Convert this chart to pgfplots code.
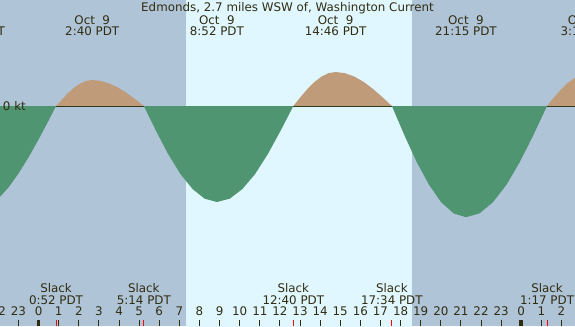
\documentclass[border=0pt]{standalone}
\usepackage{fontspec}
\setmainfont{DejaVu Sans}
\usepackage{pgfplots}
\pgfplotsset{compat=1.18}
\usepackage{pgfplotstable}

\definecolor{nightcol}{RGB}{176,196,216}
\definecolor{daycol}{RGB}{224,247,255}
\definecolor{floodcol}{RGB}{191,155,122}
\definecolor{ebbcol}{RGB}{80,149,113}
\definecolor{fgcol}{RGB}{48,44,16}
\newcommand\lbl{\fontsize{8.9}{10}\selectfont}

% tidal current, hours from midnight Oct 9 (PDT), knots (+ flood, - ebb)
\pgfplotstableread{
t v
-2.00 -1.157
-1.50 -1.019
-1.00 -0.845
-0.50 -0.642
0.00 -0.418
0.50 -0.181
0.867 0
1.17 0.084
1.47 0.163
1.77 0.230
2.07 0.281
2.37 0.314
2.667 0.325
3.09 0.314
3.52 0.281
3.95 0.230
4.38 0.163
4.81 0.084
5.233 0
5.84 -0.311
6.44 -0.600
7.05 -0.849
7.66 -1.039
8.26 -1.159
8.867 -1.200
9.50 -1.159
10.13 -1.039
10.77 -0.849
11.40 -0.600
12.03 -0.311
12.667 0
13.02 0.110
13.37 0.2125
13.72 0.3005
14.07 0.368
14.42 0.4105
14.767 0.425
15.23 0.4105
15.70 0.368
16.17 0.3005
16.63 0.2125
17.10 0.110
17.567 0
18.18 -0.360
18.79 -0.695
19.41 -0.983
20.02 -1.204
20.64 -1.343
21.25 -1.390
21.92 -1.343
22.59 -1.204
23.27 -0.983
23.94 -0.695
24.61 -0.360
25.283 0
25.62 0.104
25.95 0.200
26.29 0.283
26.63 0.346
26.96 0.386
27.30 0.400
}\current

\begin{document}
\begin{tikzpicture}
\begin{axis}[
  scale only axis, width=431.25pt, height=244.5pt,
  xmin=-1.919, xmax=26.673, ymin=-2.75, ymax=1.325,
  axis background/.style={fill=nightcol},
  axis line style={draw=none},
  axis on top,
  ytick=\empty,
  xtick={-1,0,...,26},
  xticklabels={23,0,1,2,3,4,5,6,7,8,9,10,11,12,13,14,15,16,17,18,19,20,21,22,23,0,1,2},
  xtick pos=bottom, tick align=inside, major tick length=4.5pt,
  tick style={fgcol, line width=0.75pt},
  xticklabel style={anchor=base, yshift=7.7pt, font=\lbl, text=fgcol, inner sep=0pt},
  /pgf/number format/assume math mode=true,
]
% daylight
\addplot[draw=none, fill=daycol] coordinates {(7.315,-3) (7.315,2) (18.553,2) (18.553,-3)} -- cycle;
% flood
\addplot[draw=none, fill=floodcol] table[x=t, y expr={max(\thisrow{v},0)}] {\current} \closedcycle;
% zero line
\addplot[fgcol, line width=0.75pt] coordinates {(-3,-0.00625) (28,-0.00625)};
% ebb
\addplot[draw=none, fill=ebbcol] table[x=t, y expr={min(\thisrow{v},0)}] {\current} \closedcycle;
% slack ticks
\addplot[only marks, mark=|, mark size=2.25pt, red, mark options={line width=0.75pt}]
  coordinates {(0.867,-2.7125) (5.233,-2.7125) (12.667,-2.7125) (17.567,-2.7125) (25.283,-2.7125)};
% midnight ticks
\addplot[only marks, mark=|, mark size=2.25pt, fgcol, mark options={line width=2.7pt}]
  coordinates {(0,-2.7125) (24,-2.7125)};

\begin{scope}[every node/.style={font=\lbl, text=fgcol, inner sep=0pt}]
\node[anchor=base] at (axis cs:12.377,1.175) {Edmonds, 2.7 miles WSW of, Washington Current};
% maximum current times
\node[anchor=base] at (axis cs:-3.21,1.019) {Oct\ \ 8};
\node[anchor=base] at (axis cs:-3.21,0.875) {20:45 PDT};
\node[anchor=base] at (axis cs:2.667,1.019) {Oct\ \ 9};
\node[anchor=base] at (axis cs:2.667,0.875) {2:40 PDT};
\node[anchor=base] at (axis cs:8.867,1.019) {Oct\ \ 9};
\node[anchor=base] at (axis cs:8.867,0.875) {8:52 PDT};
\node[anchor=base] at (axis cs:14.767,1.019) {Oct\ \ 9};
\node[anchor=base] at (axis cs:14.767,0.875) {14:46 PDT};
\node[anchor=base] at (axis cs:21.25,1.019) {Oct\ \ 9};
\node[anchor=base] at (axis cs:21.25,0.875) {21:15 PDT};
\node[anchor=base] at (axis cs:27.30,1.019) {Oct 10};
\node[anchor=base] at (axis cs:27.30,0.875) {3:18 PDT};
% slack times
\node[anchor=base] at (axis cs:0.867,-2.325) {Slack};
\node[anchor=base] at (axis cs:0.867,-2.475) {0:52 PDT};
\node[anchor=base] at (axis cs:5.233,-2.325) {Slack};
\node[anchor=base] at (axis cs:5.233,-2.475) {5:14 PDT};
\node[anchor=base] at (axis cs:12.667,-2.325) {Slack};
\node[anchor=base] at (axis cs:12.667,-2.475) {12:40 PDT};
\node[anchor=base] at (axis cs:17.567,-2.325) {Slack};
\node[anchor=base] at (axis cs:17.567,-2.475) {17:34 PDT};
\node[anchor=base] at (axis cs:25.283,-2.325) {Slack};
\node[anchor=base] at (axis cs:25.283,-2.475) {1:17 PDT};
\node[anchor=base] at (axis cs:-2,-2.621) {22};
\node[anchor=base west] at (axis cs:-1.785,-0.059) {0 kt};
\end{scope}
\end{axis}
\pgfresetboundingbox
\useasboundingbox (current axis.south west) rectangle (current axis.north east);
\end{tikzpicture}
\end{document}
